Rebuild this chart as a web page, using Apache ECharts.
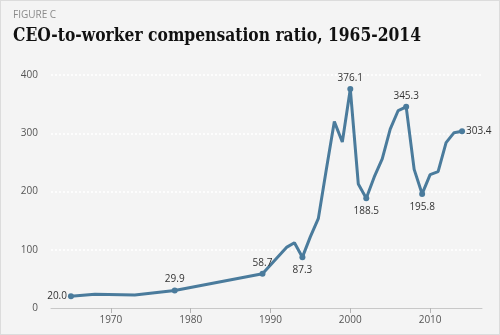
<!DOCTYPE html>
<html>
<head>
<meta charset="utf-8">
<script src="https://cdn.jsdelivr.net/npm/echarts@6/dist/echarts.min.js"></script>
<style>
  html, body { margin: 0; padding: 0; background: #f4f4f4; }
  #chart { width: 500px; height: 335px; box-sizing: border-box; border: 1px solid #dcdcdc; background: #f4f4f4; }
</style>
</head>
<body>
<div id="chart"></div>
<script>
// CEO-to-worker compensation ratio by year
const years = [1965, 1968, 1973, 1978, 1989, 1992, 1993, 1994, 1995, 1996, 1997, 1998, 1999, 2000,
               2001, 2002, 2003, 2004, 2005, 2006, 2007, 2008, 2009, 2010, 2011, 2012, 2013, 2014];
const ratios = [20.0, 23.5, 22.3, 29.9, 58.7, 104, 112, 87.3, 122.6, 154, 238, 320, 285, 376.1,
                213, 188.5, 225, 256, 307, 339, 345.3, 238, 195.8, 229, 234, 284, 301, 303.4];
// Years whose values are printed next to the line, and where the label sits
const labeledYears = [1965, 1978, 1989, 1994, 2000, 2002, 2007, 2009, 2014];
const labelSides = ['left', 'top', 'top', 'bottom', 'top', 'bottom', 'top', 'bottom', 'right'];
const xTicks = [1970, 1980, 1990, 2000, 2010];
const yTicks = [0, 100, 200, 300, 400];

const titleText = 'CEO-to-worker compensation ratio, 1965-2014';
const titleFont = 'bold 19px "DejaVu Serif"';

// Condense the slab title so it fits its line
const ctx = document.createElement('canvas').getContext('2d');
ctx.font = titleFont;
const titleScale = Math.min(1, 408 / ctx.measureText(titleText).width);

const lineColor = '#4a7b9c';
const labelFont = { fontFamily: '"Open Sans", sans-serif', fontSize: 10, color: '#333' };

const seriesData = years.map((y, i) => {
  const k = labeledYears.indexOf(y);
  const item = { value: [y, ratios[i]] };
  if (k >= 0) {
    item.symbol = 'circle';
    item.symbolSize = 6;
    item.label = {
      show: true,
      position: labelSides[k],
      distance: labelSides[k] === 'bottom' ? 5 : (labelSides[k] === 'top' ? 3 : 1),
      formatter: () => ratios[i].toFixed(1)
    };
  } else {
    item.symbolSize = 0;
  }
  return item;
});

const chart = echarts.init(document.getElementById('chart'), null, { renderer: 'canvas' });
chart.setOption({
  backgroundColor: '#f4f4f4',
  animation: false,
  graphic: [
    {
      type: 'text', left: 12, top: 9,
      style: { text: 'FIGURE C', font: '10px "Open Sans", sans-serif', fill: '#8a8a8a' }
    },
    {
      type: 'text', x: 12, y: 26, scaleX: titleScale,
      style: { text: titleText, font: titleFont, fill: '#111' }
    }
  ],
  grid: { left: 50, right: 17, top: 74, bottom: 26, containLabel: false },
  xAxis: {
    type: 'value',
    min: 1962.5,
    max: 2016.5,
    axisLine: { show: true, lineStyle: { color: '#c8c8c8', width: 1 } },
    axisTick: { show: true, length: 5, customValues: xTicks, lineStyle: { color: '#b5b5b5' } },
    axisLabel: {
      customValues: xTicks, margin: 7, color: '#555',
      fontFamily: '"Open Sans", sans-serif', fontSize: 10,
      formatter: v => String(v)
    },
    splitLine: { show: false }
  },
  yAxis: {
    type: 'value',
    min: yTicks[0],
    max: yTicks[yTicks.length - 1],
    interval: 100,
    axisLine: { show: false },
    axisTick: { show: false },
    axisLabel: { margin: 13, color: '#555', fontFamily: '"Open Sans", sans-serif', fontSize: 10 },
    splitLine: {
      show: true,
      lineStyle: { color: '#ffffff', width: 1.5, type: [2, 2] },
      showMinLine: false
    }
  },
  series: [{
    type: 'line',
    data: seriesData,
    showSymbol: true,
    symbol: 'circle',
    itemStyle: { color: lineColor },
    lineStyle: { color: lineColor, width: 3 },
    label: labelFont,
    z: 3
  }]
});
</script>
</body>
</html>
